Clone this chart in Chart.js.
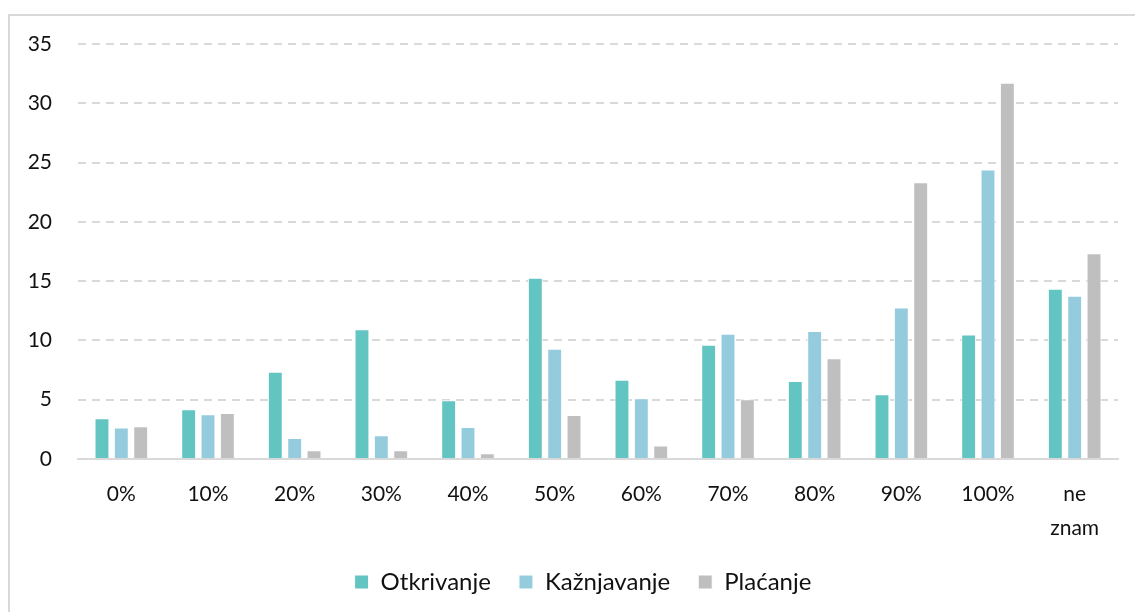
<!DOCTYPE html>
<html>
<head>
<meta charset="utf-8">
<script src="https://cdn.jsdelivr.net/npm/chart.js@4"></script>
<style>
  html, body { margin: 0; padding: 0; background: #fff; }
  #wrap { position: relative; width: 1135px; height: 612px; overflow: hidden; }
  #frame { position: absolute; left: 8px; top: 14px; width: 1200px; height: 700px;
           border-left: 2px solid #D9D9D9; border-top: 2px solid #D9D9D9; pointer-events: none; }
</style>
</head>
<body>
<div id="wrap">
  <canvas id="barChart" width="1135" height="612"></canvas>
  <div id="frame"></div>
</div>
<script>
const categories = ['0%', '10%', '20%', '30%', '40%', '50%', '60%', '70%', '80%', '90%', '100%', ['ne', 'znam']];
const otkrivanje = [3.44, 4.2, 7.35, 10.95, 4.96, 15.29, 6.69, 9.64, 6.58, 5.46, 10.51, 14.36];
const kaznjavanje = [2.65, 3.77, 1.78, 2.0, 2.7, 9.29, 5.12, 10.57, 10.8, 12.77, 24.41, 13.76];
const placanje = [2.76, 3.89, 0.73, 0.73, 0.48, 3.72, 1.13, 5.03, 8.5, 23.34, 31.73, 17.35];
const yTicks = [0, 5, 10, 15, 20, 25, 30, 35];

const fontFamily = 'Lato, "Open Sans", sans-serif';
const textColor = '#111';

function makeSet(label, data, color) {
    return {
        label: label,
        data: data,
        backgroundColor: color,
        borderColor: '#ffffff',
        borderWidth: 1,
        borderSkipped: 'start',
        categoryPercentage: 0.67,
        barPercentage: 0.77
    };
}

// nudge the legend a little to the right, like the original
const legendShift = {
    id: 'legendShift',
    afterLayout(chart) {
        chart.legend.left += 20;
        chart.legend.right += 20;
    }
};

const ctx = document.getElementById('barChart').getContext('2d');
const chart = new Chart(ctx, {
    type: 'bar',
    data: {
        labels: categories,
        datasets: [
            makeSet('Otkrivanje', otkrivanje, '#63C5C2'),
            makeSet('Kažnjavanje', kaznjavanje, '#95CCDD'),
            makeSet('Plaćanje', placanje, '#BFBFBF')
        ]
    },
    options: {
        responsive: false,
        animation: false,
        layout: { padding: { left: 8, right: 17, top: 44, bottom: 8 } },
        scales: {
            x: {
                afterFit: function(scale) { scale.height = 83; },
                grid: { display: false, drawTicks: false },
                border: { display: true, color: '#D9D9D9', width: 2 },
                ticks: {
                    color: textColor,
                    padding: 18,
                    maxRotation: 0,
                    font: { family: fontFamily, size: 21, lineHeight: 1.62 }
                }
            },
            y: {
                min: 0,
                max: 35,
                afterFit: function(scale) { scale.width = 70; },
                afterBuildTicks: function(scale) { scale.ticks = yTicks.map(v => ({ value: v })); },
                border: { display: false, dash: [8, 6] },
                grid: {
                    drawTicks: false,
                    color: function(c) { return c.tick && c.tick.value === 0 ? 'rgba(0,0,0,0)' : '#D9D9D9'; },
                    lineWidth: 2
                },
                ticks: {
                    color: textColor,
                    padding: 26,
                    font: { family: fontFamily, size: 21 }
                }
            }
        },
        plugins: {
            legend: {
                position: 'bottom',
                labels: {
                    color: textColor,
                    boxWidth: 14,
                    boxHeight: 14,
                    padding: 28,
                    font: { family: fontFamily, size: 24 }
                }
            },
            tooltip: { enabled: false }
        }
    },
    plugins: [legendShift]
});
</script>
</body>
</html>
